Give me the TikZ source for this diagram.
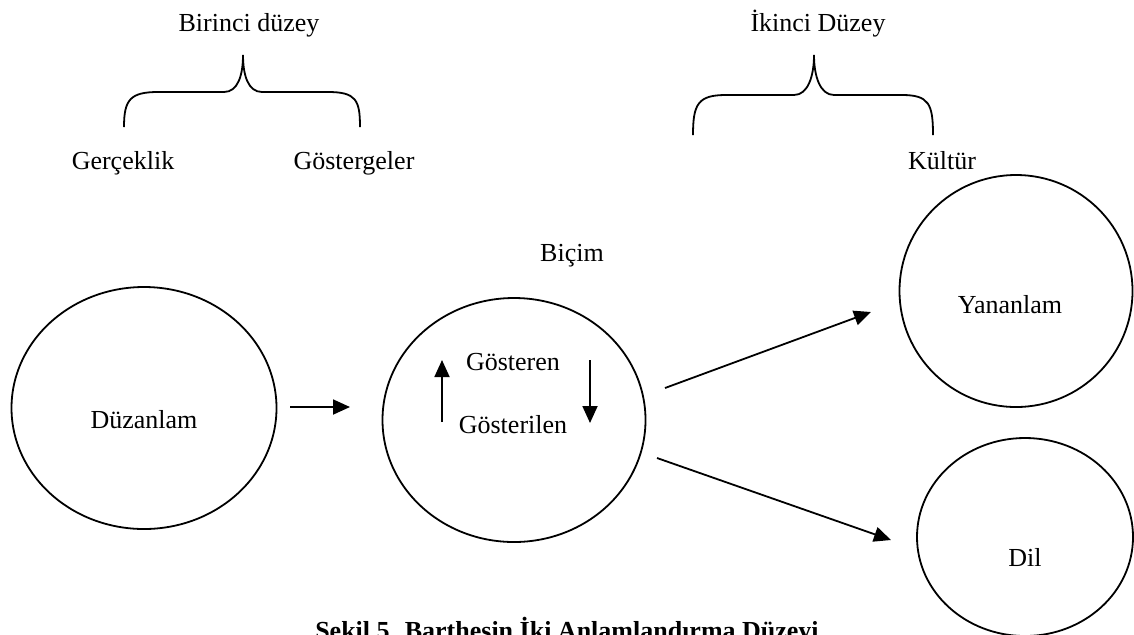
\documentclass[tikz,border=0pt]{standalone}
\usepackage{fontspec}
\setmainfont{Liberation Serif}
\usetikzlibrary{arrows.meta,shapes.geometric}
\begin{document}
\begin{tikzpicture}[x=0.5pt,y=-0.5pt,
  lbl/.style={anchor=base,inner sep=0pt,font=\fontsize{13}{15}\selectfont},
  oval/.style={draw,ellipse,line width=0.9pt,inner sep=0pt},
  conn/.style={line width=0.9pt,-{Triangle[length=8.5pt,width=7.5pt]}},
  brace/.style={line width=0.9pt}]
\useasboundingbox (0,0) rectangle (1134,634);
% top labels
\node[lbl] (birinci) at (249,31) {Birinci düzey};
\node[lbl] (ikinci) at (818,31) {İkinci Düzey};
\node[lbl] (gercek) at (123,169) {Gerçeklik};
\node[lbl] (goster) at (354,169) {Göstergeler};
\node[lbl] (kultur) at (942,169) {Kültür};
\node[lbl] (bicim) at (572,261) {Biçim};
% braces
\draw[brace] (124,127) .. controls (124,100) and (130,92) .. (158,92) -- (224,92)
  .. controls (238,92) and (243,75) .. (243,55)
  .. controls (243,75) and (248,92) .. (262,92) -- (328,92)
  .. controls (356,92) and (360,100) .. (360,127);
\draw[brace] (693,135) .. controls (693,104) and (698,95) .. (726,95) -- (794,95)
  .. controls (808,95) and (814,76) .. (814,55)
  .. controls (814,76) and (820,95) .. (834,95) -- (902,95)
  .. controls (929,95) and (933,104) .. (933,135);
% ellipses
\node[oval,minimum width=132.5pt,minimum height=121pt] (duzE) at (144,408) {};
\node[oval,minimum width=131.5pt,minimum height=122pt] (bicE) at (514,420) {};
\node[oval,minimum width=116.5pt,minimum height=116pt] (yanE) at (1016,291) {};
\node[oval,minimum width=108pt,minimum height=99pt] (dilE) at (1025,537) {};
% texts in ellipses
\node[lbl] (duz) at (144,428) {Düzanlam};
\node[lbl] (gosteren) at (513,370) {Gösteren};
\node[lbl] (gosterilen) at (513,433) {Gösterilen};
\node[lbl] (yan) at (1010,313) {Yananlam};
\node[lbl] (dil) at (1025,566) {Dil};
% arrow end points
\coordinate (a1s) at (290,407); \coordinate (a1e) at (350,407);
\coordinate (ups) at (442,422); \coordinate (upe) at (442,360);
\coordinate (dns) at (590,360); \coordinate (dne) at (590,423);
\coordinate (a2s) at (665,388); \coordinate (a2e) at (871,312);
\coordinate (a3s) at (657,458); \coordinate (a3e) at (891,540);
\draw[conn] (a1s) -- (a1e);
\draw[conn] (ups) -- (upe);
\draw[conn] (dns) -- (dne);
\draw[conn] (a2s) -- (a2e);
\draw[conn] (a3s) -- (a3e);
% caption (cut off at bottom, as in the reference)
\node[lbl,font=\fontsize{13}{15}\selectfont\bfseries] (caption) at (567,639) {Şekil 5. Barthesin İki Anlamlandırma Düzeyi};
\end{tikzpicture}
\end{document}
